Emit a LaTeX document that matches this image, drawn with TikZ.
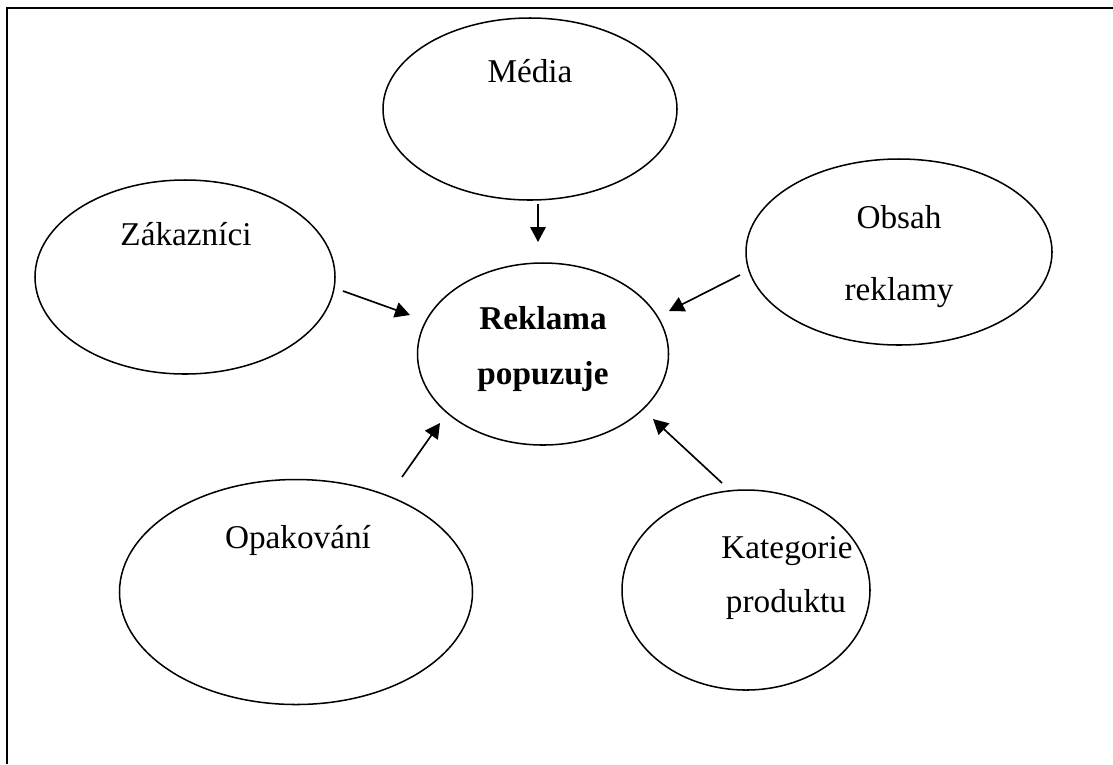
\documentclass[tikz,border=0pt]{standalone}
\usepackage{fontspec}
\setmainfont{Liberation Serif}
\usetikzlibrary{positioning, arrows.meta, shapes.geometric}

\begin{document}
\begin{tikzpicture}[
  x=0.361pt, y=-0.361pt,
  bubble/.style 2 args={draw, ellipse, line width=0.55pt, inner sep=0pt,
    minimum width=#1*0.361pt, minimum height=#2*0.361pt},
  word/.style={anchor=base, inner sep=0pt, font=\fontsize{12}{14}\selectfont},
  bword/.style={word, font=\fontsize{12}{14}\selectfont\bfseries},
  arr/.style={-{Triangle[length=5.4pt, width=5.6pt]}, line width=0.6pt},
]
  \useasboundingbox (0,0) rectangle (1113,764);
  \draw[line width=0.75pt] (7,764) -- (7,8) -- (1113,8);

  \node[bubble={294}{182}] (media) at (530,109) {};
  \node[bubble={300}{194}] (zak) at (185,277) {};
  \node[bubble={251}{182}] (rek) at (543,354) {};
  \node[bubble={306}{186}] (obsah) at (899,252) {};
  \node[bubble={353}{225}] (opak) at (296,592) {};
  \node[bubble={248}{200}] (kat) at (746,590) {};

  \node[word] (media-t) at (530,82) {Média};
  \node[word] (zak-t) at (186,245) {Zákazníci};
  \node[bword] (rek-t1) at (543,329) {Reklama};
  \node[bword] (rek-t2) at (543,384) {popuzuje};
  \node[word] (obsah-t1) at (899,228) {Obsah};
  \node[word] (obsah-t2) at (899,300) {reklamy};
  \node[word] (opak-t) at (298,548) {Opakování};
  \node[word] (kat-t1) at (787,558) {Kategorie};
  \node[word] (kat-t2) at (786,612) {produktu};

  % arrow ends
  \coordinate (media-out) at (538,204);
  \coordinate (rek-top) at (538,242);
  \coordinate (zak-out) at (343,291);
  \coordinate (rek-left) at (410,315);
  \coordinate (obsah-out) at (740,275);
  \coordinate (rek-right) at (669,311);
  \coordinate (kat-out) at (722,483);
  \coordinate (rek-lowright) at (653,419);
  \coordinate (opak-out) at (402,477);
  \coordinate (rek-lowleft) at (440,423);

  \draw[arr] (media-out) -- (rek-top);
  \draw[arr] (zak-out) -- (rek-left);
  \draw[arr] (obsah-out) -- (rek-right);
  \draw[arr] (kat-out) -- (rek-lowright);
  \draw[arr] (opak-out) -- (rek-lowleft);
\end{tikzpicture}
\end{document}
